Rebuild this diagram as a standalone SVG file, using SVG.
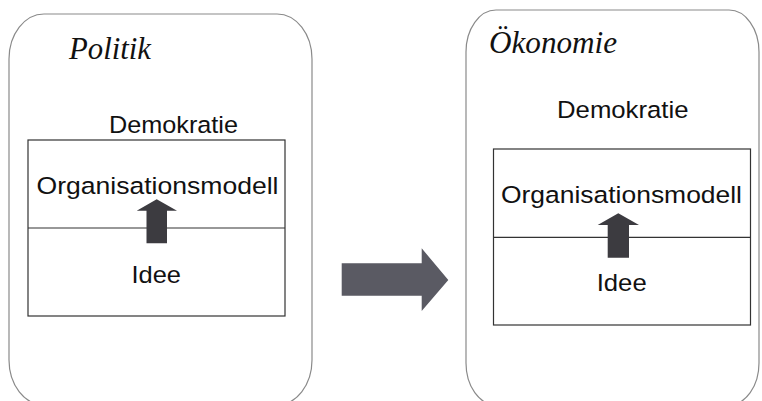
<svg xmlns="http://www.w3.org/2000/svg" width="762" height="401" viewBox="0 0 762 401">
<style>
.panel{fill:#fff;stroke:#8a8a8a;stroke-width:1.2}
.box{fill:#fff;stroke:#333;stroke-width:1.2}
.div{stroke:#333;stroke-width:1.2}
.title{font-family:"Liberation Serif",serif;font-style:italic;font-size:32px;fill:#111}
.lbl{font-family:"Liberation Sans",Arial,sans-serif;font-size:24.5px;fill:#111}
.up{fill:#3c3b40}
.big{fill:#5a5a63}
</style>
<rect width="762" height="401" fill="#fff"/>
<g id="politik">
<path class="panel" d="M44,14 H277 A35,45 0 0 1 312,59 V360 A35,45 0 0 1 277,405 H44 A35,45 0 0 1 9,360 V59 A35,45 0 0 1 44,14 Z"/>
<text class="title" x="69" y="58.5" textLength="82" lengthAdjust="spacingAndGlyphs">Politik</text>
<text class="lbl" x="109" y="133.3" font-size="23.5" textLength="129" lengthAdjust="spacingAndGlyphs">Demokratie</text>
<g id="politik-model">
<rect class="box" x="28" y="140" width="257" height="176"/>
<line class="div" x1="28" y1="228" x2="285" y2="228"/>
<text class="lbl" x="36.5" y="194" textLength="242" lengthAdjust="spacingAndGlyphs">Organisationsmodell</text>
<text class="lbl" x="131.5" y="282.5" textLength="49.5" lengthAdjust="spacingAndGlyphs">Idee</text>
</g>
</g>
<g id="oekonomie">
<path class="panel" d="M496,10 H729 A30,42 0 0 1 759,52 V363 A30,42 0 0 1 729,405 H496 A30,42 0 0 1 466,363 V52 A30,42 0 0 1 496,10 Z"/>
<text class="title" x="489" y="52.5" textLength="128" lengthAdjust="spacingAndGlyphs">Ökonomie</text>
<text class="lbl" x="557" y="118" font-size="23.5" textLength="131.5" lengthAdjust="spacingAndGlyphs">Demokratie</text>
<g id="oekonomie-model">
<rect class="box" x="493.5" y="149" width="257" height="176"/>
<line class="div" x1="493.5" y1="237.3" x2="750.5" y2="237.3"/>
<text class="lbl" x="501" y="203" textLength="241" lengthAdjust="spacingAndGlyphs">Organisationsmodell</text>
<text class="lbl" x="596.7" y="291" textLength="50" lengthAdjust="spacingAndGlyphs">Idee</text>
</g>
</g>
<g id="connectors">
<polygon class="up" points="156.7,199.3 177,210.7 167,210.7 167,243.3 146.5,243.3 146.5,210.7 136.7,210.7"/>
<polygon class="up" points="618.3,213.3 639,225 629,225 629,257.7 607.7,257.7 607.7,225 597.7,225"/>
<polygon class="big" points="341.7,263.3 421.7,263.3 421.7,248.3 448.3,280 421.7,311 421.7,295.7 341.7,295.7"/>
</g>
</svg>
